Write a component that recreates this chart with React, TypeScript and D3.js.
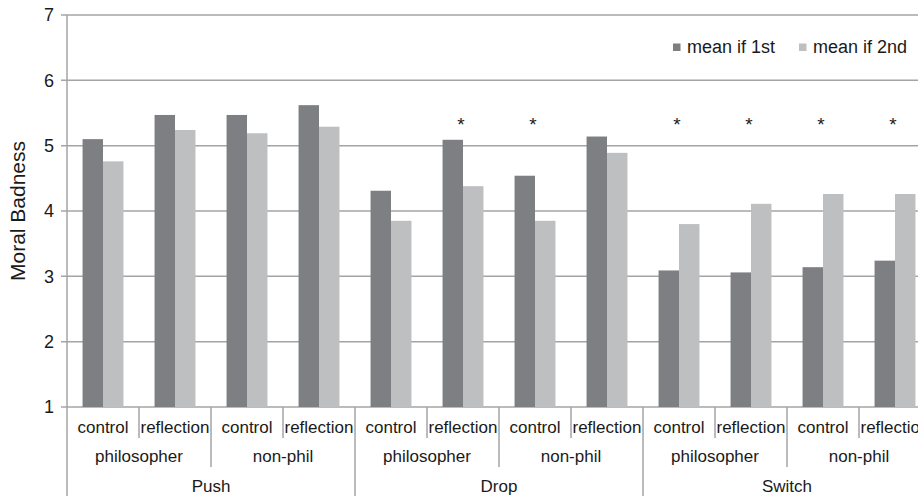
import React, { useRef, useEffect } from "react";
import * as d3 from "d3";

// categories: scenario > group > condition
const scenarios = ["Push", "Drop", "Switch"];
const groups = ["philosopher", "non-phil"];
const conditions = ["control", "reflection"];

const seriesNames = ["mean if 1st", "mean if 2nd"];
// in order Push/phil/control, Push/phil/reflection, Push/non-phil/control, ...
const meanFirst = [5.1, 5.47, 5.47, 5.62, 4.31, 5.09, 4.54, 5.14, 3.09, 3.06, 3.14, 3.24];
const meanSecond = [4.76, 5.24, 5.19, 5.29, 3.85, 4.38, 3.85, 4.89, 3.8, 4.11, 4.26, 4.26];
const significant = [false, false, false, false, false, true, true, false, true, true, true, true];

const yTicks = [1, 2, 3, 4, 5, 6, 7];

const COLORS = ["#7e7f83", "#bebfc1"];
const GRID = "#a4a4a4";
const TEXT = "#1a1a1a";
const FONT = "'Liberation Sans', Arial, Helvetica, sans-serif";

const App: React.FC = () => {
  const svgRef = useRef<SVGSVGElement | null>(null);

  useEffect(() => {
    const svg = d3.select(svgRef.current);
    svg.selectAll("*").remove();

    const W = 918;
    const H = 496;
    const left = 67;
    const plotRight = 931; // last column runs off the picture
    const top = 15;
    const bottom = 407;

    svg.attr("width", W).attr("height", H).style("font-family", FONT);

    const leaves: { key: string; scenario: string; group: string; cond: string; i: number }[] = [];
    scenarios.forEach((s) =>
      groups.forEach((g) =>
        conditions.forEach((c) => {
          leaves.push({ key: `${s}|${g}|${c}`, scenario: s, group: g, cond: c, i: leaves.length });
        })
      )
    );

    const x = d3
      .scaleBand<string>()
      .domain(leaves.map((d) => d.key))
      .range([left, plotRight])
      .padding(0);

    const xInner = d3
      .scaleBand<string>()
      .domain(seriesNames)
      .range([0, x.bandwidth()])
      .paddingInner(0)
      .paddingOuter(0.76);

    const y = d3.scaleLinear().domain([1, 7]).range([bottom, top]);

    // gridlines + ticks
    svg
      .append("g")
      .selectAll("line")
      .data(yTicks)
      .enter()
      .append("line")
      .attr("x1", left - 6)
      .attr("x2", W)
      .attr("y1", (d) => y(d))
      .attr("y2", (d) => y(d))
      .attr("stroke", GRID)
      .attr("stroke-width", 1.5);

    svg
      .append("g")
      .selectAll("text")
      .data(yTicks)
      .enter()
      .append("text")
      .attr("x", 54)
      .attr("y", (d) => y(d))
      .attr("dy", "0.36em")
      .attr("text-anchor", "end")
      .attr("font-size", 18)
      .attr("fill", TEXT)
      .text((d) => d);

    svg
      .append("text")
      .attr("transform", `translate(25,${(top + bottom) / 2}) rotate(-90)`)
      .attr("text-anchor", "middle")
      .attr("font-size", 21)
      .attr("fill", TEXT)
      .text("Moral Badness");

    // bars
    const values = [meanFirst, meanSecond];
    const barG = svg.append("g");
    seriesNames.forEach((name, si) => {
      barG
        .append("g")
        .selectAll("rect")
        .data(leaves)
        .enter()
        .append("rect")
        .attr("x", (d) => (x(d.key) as number) + (xInner(name) as number))
        .attr("width", xInner.bandwidth())
        .attr("y", (d) => y(values[si][d.i]))
        .attr("height", (d) => bottom - y(values[si][d.i]))
        .attr("fill", COLORS[si]);
    });

    // significance markers
    svg
      .append("g")
      .selectAll("text")
      .data(leaves.filter((d) => significant[d.i]))
      .enter()
      .append("text")
      .attr("x", (d) => (x(d.key) as number) + x.bandwidth() / 2 - 2)
      .attr("y", 131)
      .attr("text-anchor", "middle")
      .attr("font-size", 19)
      .attr("fill", TEXT)
      .text("*");

    // axes lines
    svg
      .append("line")
      .attr("x1", left)
      .attr("x2", left)
      .attr("y1", top)
      .attr("y2", H)
      .attr("stroke", GRID)
      .attr("stroke-width", 1.5);

    // hierarchical category axis
    const levelY = [bottom + 31, bottom + 60, H];
    const labelY = [432.5, 462, 491.5];

    // condition separators
    const sepG = svg.append("g");
    leaves.forEach((d) => {
      const x0 = x(d.key) as number;
      if (d.i > 0) {
        const depth = d.i % 4 === 0 ? 2 : d.i % 2 === 0 ? 1 : 0;
        sepG
          .append("line")
          .attr("x1", x0)
          .attr("x2", x0)
          .attr("y1", bottom)
          .attr("y2", levelY[depth])
          .attr("stroke", GRID)
          .attr("stroke-width", 1.5);
      }
    });

    svg
      .append("g")
      .selectAll("text")
      .data(leaves)
      .enter()
      .append("text")
      .attr("x", (d) => (x(d.key) as number) + x.bandwidth() / 2)
      .attr("y", labelY[0])
      .attr("text-anchor", "middle")
      .attr("font-size", 17)
      .attr("fill", TEXT)
      .text((d) => d.cond);

    const groupItems: { label: string; start: string; end: string }[] = [];
    scenarios.forEach((s) =>
      groups.forEach((g) =>
        groupItems.push({
          label: g,
          start: `${s}|${g}|${conditions[0]}`,
          end: `${s}|${g}|${conditions[conditions.length - 1]}`,
        })
      )
    );

    svg
      .append("g")
      .selectAll("text")
      .data(groupItems)
      .enter()
      .append("text")
      .attr("x", (d) => ((x(d.start) as number) + (x(d.end) as number) + x.bandwidth()) / 2)
      .attr("y", labelY[1])
      .attr("text-anchor", "middle")
      .attr("font-size", 17)
      .attr("fill", TEXT)
      .text((d) => d.label);

    svg
      .append("g")
      .selectAll("text")
      .data(scenarios)
      .enter()
      .append("text")
      .attr("x", (s) => {
        const a = x(`${s}|${groups[0]}|${conditions[0]}`) as number;
        const b = (x(`${s}|${groups[groups.length - 1]}|${conditions[conditions.length - 1]}`) as number) + x.bandwidth();
        return (a + b) / 2;
      })
      .attr("y", labelY[2])
      .attr("text-anchor", "middle")
      .attr("font-size", 17)
      .attr("fill", TEXT)
      .text((s) => s);

    // legend
    const legendX = [673, 799];
    const legend = svg.append("g");
    seriesNames.forEach((name, i) => {
      legend
        .append("rect")
        .attr("x", legendX[i])
        .attr("y", 43.5)
        .attr("width", 7.5)
        .attr("height", 7.5)
        .attr("fill", COLORS[i]);
      legend
        .append("text")
        .attr("x", legendX[i] + 14)
        .attr("y", 53.3)
        .attr("font-size", 18)
        .attr("fill", TEXT)
        .text(name);
    });
  }, []);

  return (
    <svg
      ref={svgRef}
      style={{ position: "absolute", left: 0, top: 0, background: "#fff" }}
    />
  );
};

export default App;
